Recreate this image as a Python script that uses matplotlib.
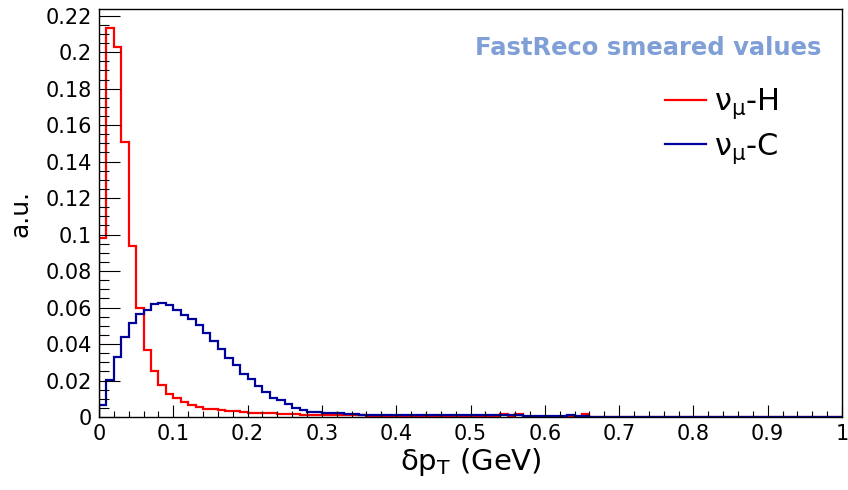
import matplotlib
matplotlib.use('Agg')
import numpy as np
import matplotlib.pyplot as plt
from matplotlib.ticker import MultipleLocator, FuncFormatter
from matplotlib.lines import Line2D

# upright greek everywhere, like the ROOT output
plt.rcParams['font.family'] = ['DejaVu Sans']
plt.rcParams['mathtext.fontset'] = 'custom'
plt.rcParams['mathtext.rm'] = 'DejaVu Sans'
plt.rcParams['mathtext.it'] = 'DejaVu Sans'
plt.rcParams['mathtext.bf'] = 'DejaVu Sans:bold'

# 100 bins of delta pT between 0 and 1 GeV
bin_edges = np.linspace(0.0, 1.0, 101)

# nu_mu on hydrogen
numu_h = [
    0.098, 0.213, 0.203, 0.151, 0.094, 0.060, 0.037, 0.025, 0.0175, 0.0128,
    0.0104, 0.0082, 0.0068, 0.0055, 0.0045, 0.0044, 0.0040, 0.0032, 0.0031, 0.0030,
    0.0024, 0.0022, 0.0021, 0.0020, 0.0015, 0.0014, 0.0014, 0.0013, 0.0012, 0.0012,
    0.0011, 0.0011, 0.0010, 0.0010, 0.0009, 0.0009, 0.0006, 0.0005, 0.0005, 0.0004,
    0.0004, 0.0004, 0.0003, 0.0003, 0.0003, 0.0003, 0.0003, 0.0002, 0.0002, 0.0002,
    0.0002, 0.0002, 0.0002, 0.0002, 0.0015, 0.0002, 0.0015, 0.0002, 0.0001, 0.0001,
    0.0001, 0.0001, 0.0001, 0.0001, 0.0001, 0.0015, 0.0001, 0.0, 0.0, 0.0,
    0.0, 0.0, 0.0, 0.0, 0.0, 0.0, 0.0, 0.0, 0.0, 0.0,
    0.0, 0.0, 0.0, 0.0, 0.0, 0.0, 0.0, 0.0, 0.0, 0.0,
    0.0, 0.0, 0.0, 0.0, 0.0, 0.0, 0.0, 0.0, 0.0, 0.0,
]

# nu_mu on carbon
numu_c = [
    0.0068, 0.0205, 0.0330, 0.0437, 0.0516, 0.0562, 0.0584, 0.0617, 0.0624, 0.0612,
    0.0584, 0.0557, 0.0538, 0.0507, 0.0462, 0.0415, 0.0375, 0.0324, 0.0287, 0.0236,
    0.0209, 0.0168, 0.0135, 0.0104, 0.0095, 0.0073, 0.0049, 0.0040, 0.0030, 0.0025,
    0.0022, 0.0022, 0.0020, 0.0018, 0.0018, 0.0013, 0.0012, 0.0012, 0.0012, 0.0011,
    0.0011, 0.0011, 0.0011, 0.0010, 0.0010, 0.0010, 0.0010, 0.0010, 0.0010, 0.0010,
    0.0010, 0.0010, 0.0010, 0.0010, 0.0009, 0.0009, 0.0009, 0.0004, 0.0004, 0.0004,
    0.0003, 0.0003, 0.0003, 0.0012, 0.0003, 0.0003, 0.0002, 0.0002, 0.0002, 0.0002,
    0.0002, 0.0002, 0.0002, 0.0002, 0.0002, 0.0002, 0.0002, 0.0002, 0.0002, 0.0002,
    0.0002, 0.0002, 0.0002, 0.0002, 0.0002, 0.0002, 0.0002, 0.0002, 0.0002, 0.0002,
    0.0002, 0.0002, 0.0002, 0.0002, 0.0002, 0.0002, 0.0002, 0.0002, 0.0002, 0.0002,
]

labels = [r'$\nu_{\mu}$-H', r'$\nu_{\mu}$-C']
colors = ['#ff0000', '#00009a']

fig = plt.figure(figsize=(8.48, 4.9), dpi=100)
ax = fig.add_axes([99/848, 1 - 417/490, 743/848, 408/490])

ax.stairs(numu_h, bin_edges, color=colors[0], lw=1.6)
ax.stairs(numu_c, bin_edges, color=colors[1], lw=1.6)

ax.set_xlim(0, 1)
ax.set_ylim(0, 1.05 * max(numu_h))

# ROOT style axes: ticks inside, only bottom and left
ax.xaxis.set_major_locator(MultipleLocator(0.1))
ax.xaxis.set_minor_locator(MultipleLocator(0.02))
ax.yaxis.set_major_locator(MultipleLocator(0.02))
ax.yaxis.set_minor_locator(MultipleLocator(0.005))
fmt = FuncFormatter(lambda v, pos: '%g' % round(v, 4))
ax.xaxis.set_major_formatter(fmt)
ax.yaxis.set_major_formatter(fmt)
ax.tick_params(which='both', direction='in', top=False, right=False, width=0.8)
ax.tick_params(axis='x', which='major', length=9, pad=5, labelsize=15)
ax.tick_params(axis='x', which='minor', length=4.5)
ax.tick_params(axis='y', which='major', length=15, pad=5, labelsize=15)
ax.tick_params(axis='y', which='minor', length=7.5)
for s in ax.spines.values():
    s.set_linewidth(1.0)

ax.set_xlabel(r'$\delta$p$_{\mathrm{T}}$ (GeV)', fontsize=21)
ax.xaxis.set_label_coords(0.5, -0.07)
ax.set_ylabel('a.u.', fontsize=18)
ax.yaxis.set_label_coords(-0.09, 0.5)

ax.text(0.972, 0.904, 'FastReco smeared values', transform=ax.transAxes,
        ha='right', va='center', fontsize=17.5, fontweight='bold', color='#7f9fd6')

handles = [Line2D([], [], color=c, lw=1.6) for c in colors]
ax.legend(handles, labels, loc='upper left', bbox_to_anchor=(0.762, 0.81),
          frameon=False, fontsize=22, handlelength=1.35, handletextpad=0.25,
          borderpad=0, borderaxespad=0, labelspacing=0.32)

fig.savefig('out.png', dpi=100)
